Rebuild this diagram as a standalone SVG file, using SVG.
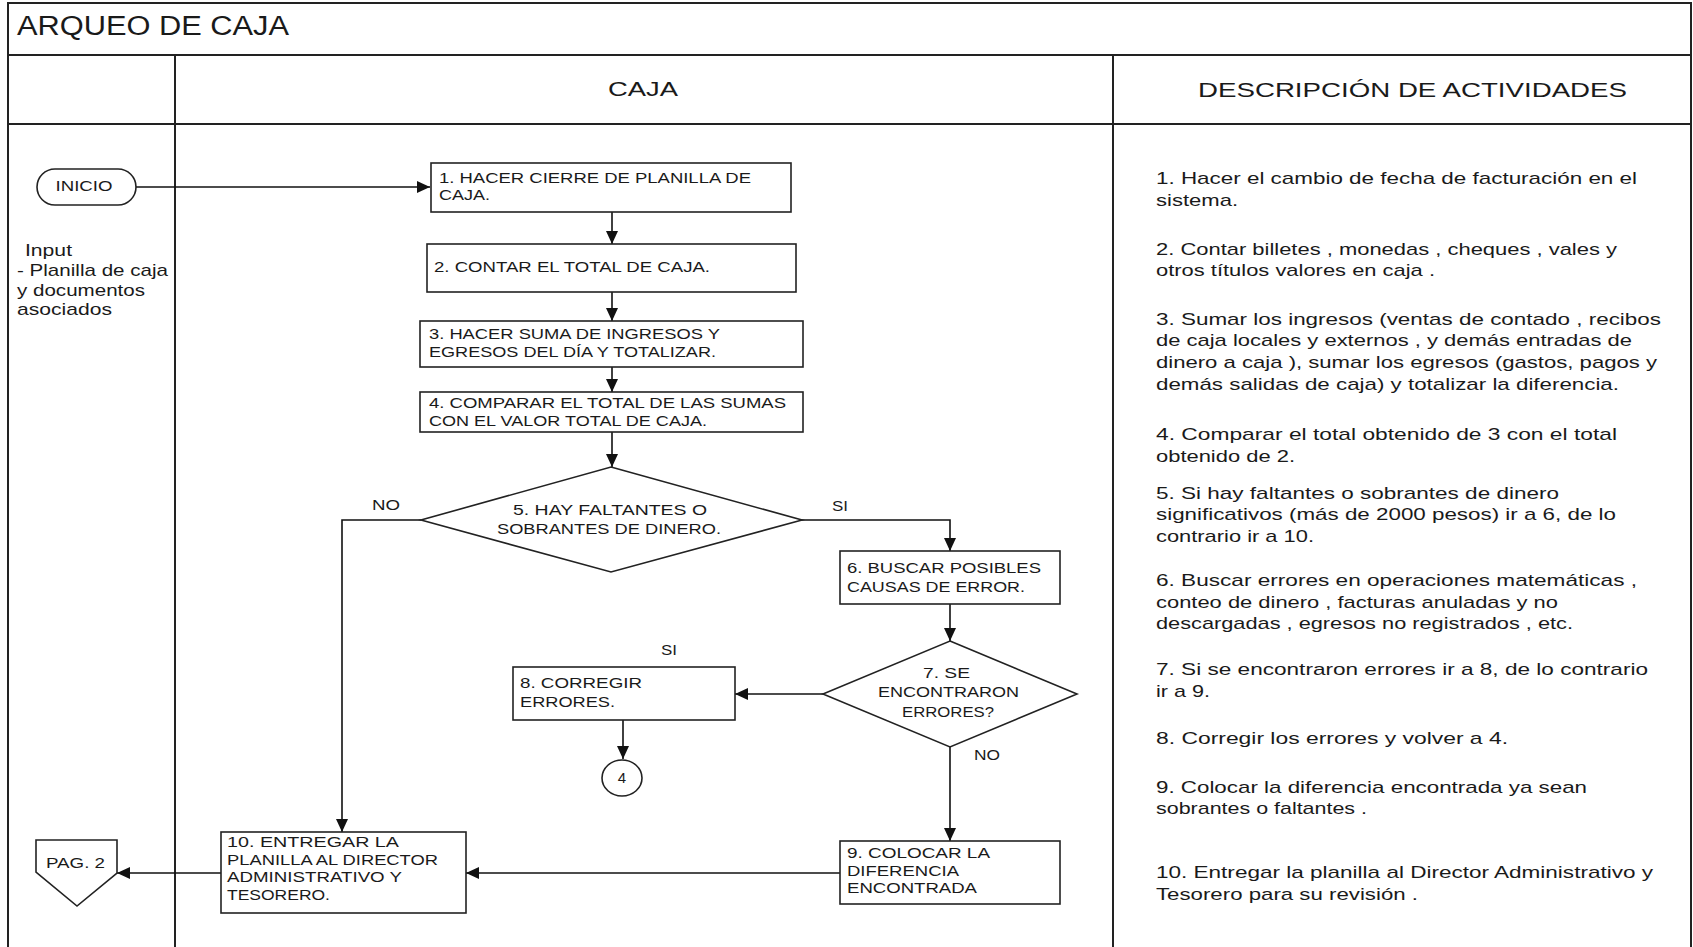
<svg xmlns="http://www.w3.org/2000/svg" width="1693" height="947" viewBox="0 0 1693 947">
  <style>
    .frame { fill: none; stroke: #222; stroke-width: 2; }
    .shape { fill: #fff; stroke: #222; stroke-width: 1.6; }
    .conn { fill: none; stroke: #111; stroke-width: 1.6; }
    text { font-family: "Liberation Sans", Arial, sans-serif; fill: #1a1a1a; }
    .t { font-size: 15px; }
    .d { font-size: 17px; }
    .h { font-size: 21px; }
  </style>
  <defs>
    <marker id="arrow" markerUnits="userSpaceOnUse" markerWidth="14" markerHeight="12" refX="13" refY="6" orient="auto">
      <path d="M0,0 L13,6 L0,12 Z" fill="#111"/>
    </marker>
  </defs>

  <rect width="1693" height="947" fill="#fff"/>

  <!-- page frame and swimlane grid -->
  <g id="frame">
    <path class="frame" d="M8,947 V3 H1691 V947"/>
    <path class="frame" d="M8,55 H1691 M8,124 H1691 M175,55 V947 M1113,55 V947"/>
    <text x="17" y="35" font-size="27" textLength="272" lengthAdjust="spacingAndGlyphs">ARQUEO DE CAJA</text>
    <text class="h" x="608" y="96" textLength="70" lengthAdjust="spacingAndGlyphs">CAJA</text>
    <text class="h" x="1198" y="97" textLength="429" lengthAdjust="spacingAndGlyphs">DESCRIPCIÓN DE ACTIVIDADES</text>
  </g>

  <!-- connectors -->
  <g id="connectors">
    <path class="conn" d="M136,187 H430" marker-end="url(#arrow)"/>
    <path class="conn" d="M612,212 V244" marker-end="url(#arrow)"/>
    <path class="conn" d="M612,292 V321" marker-end="url(#arrow)"/>
    <path class="conn" d="M612,367 V392" marker-end="url(#arrow)"/>
    <path class="conn" d="M612,432 V467" marker-end="url(#arrow)"/>
    <path class="conn" d="M421,520 H342 V832" marker-end="url(#arrow)"/>
    <path class="conn" d="M801,520 H950 V551" marker-end="url(#arrow)"/>
    <path class="conn" d="M950,604 V641" marker-end="url(#arrow)"/>
    <path class="conn" d="M823,694 H735" marker-end="url(#arrow)"/>
    <path class="conn" d="M623,720 V759" marker-end="url(#arrow)"/>
    <path class="conn" d="M950,747 V841" marker-end="url(#arrow)"/>
    <path class="conn" d="M840,873 H466" marker-end="url(#arrow)"/>
    <path class="conn" d="M221,873 H117" marker-end="url(#arrow)"/>
    <text class="t" x="372" y="510" textLength="28" lengthAdjust="spacingAndGlyphs">NO</text>
    <text class="t" x="832" y="511" textLength="16" lengthAdjust="spacingAndGlyphs">SI</text>
    <text class="t" x="661" y="655" textLength="16" lengthAdjust="spacingAndGlyphs">SI</text>
    <text class="t" x="974" y="760" textLength="26" lengthAdjust="spacingAndGlyphs">NO</text>
  </g>

  <g id="inicio">
    <rect class="shape" x="37" y="169" width="99" height="36" rx="18"/>
    <text class="t" x="55.5" y="191" textLength="57" lengthAdjust="spacingAndGlyphs">INICIO</text>
  </g>

  <g id="input">
    <text class="d" x="25" y="256" font-size="16" textLength="47" lengthAdjust="spacingAndGlyphs">Input</text>
    <text class="d" x="17" y="276" font-size="16" textLength="151" lengthAdjust="spacingAndGlyphs">- Planilla de caja</text>
    <text class="d" x="17" y="296" font-size="16" textLength="128" lengthAdjust="spacingAndGlyphs">y documentos</text>
    <text class="d" x="17" y="315" font-size="16" textLength="95" lengthAdjust="spacingAndGlyphs">asociados</text>
  </g>

  <g id="step1">
    <rect class="shape" x="431" y="163" width="360" height="49"/>
    <text class="t" x="439" y="183" textLength="312" lengthAdjust="spacingAndGlyphs">1. HACER CIERRE DE PLANILLA DE</text>
    <text class="t" x="439" y="200" textLength="51" lengthAdjust="spacingAndGlyphs">CAJA.</text>
  </g>

  <g id="step2">
    <rect class="shape" x="427" y="244" width="369" height="48"/>
    <text class="t" x="434" y="272" textLength="276" lengthAdjust="spacingAndGlyphs">2. CONTAR EL TOTAL DE CAJA.</text>
  </g>

  <g id="step3">
    <rect class="shape" x="420" y="321" width="383" height="46"/>
    <text class="t" x="429" y="339" textLength="291" lengthAdjust="spacingAndGlyphs">3. HACER SUMA DE INGRESOS Y</text>
    <text class="t" x="429" y="357" textLength="287" lengthAdjust="spacingAndGlyphs">EGRESOS DEL DÍA Y TOTALIZAR.</text>
  </g>

  <g id="step4">
    <rect class="shape" x="420" y="392" width="383" height="40"/>
    <text class="t" x="429" y="408" textLength="357" lengthAdjust="spacingAndGlyphs">4. COMPARAR EL TOTAL DE LAS SUMAS</text>
    <text class="t" x="429" y="426" textLength="278" lengthAdjust="spacingAndGlyphs">CON EL VALOR TOTAL DE CAJA.</text>
  </g>

  <g id="decision5">
    <polygon class="shape" points="611,467 802,520 611,572 421,520"/>
    <text class="t" x="513" y="515" textLength="194" lengthAdjust="spacingAndGlyphs">5. HAY FALTANTES O</text>
    <text class="t" x="497" y="534" textLength="224" lengthAdjust="spacingAndGlyphs">SOBRANTES DE DINERO.</text>
  </g>

  <g id="step6">
    <rect class="shape" x="840" y="551" width="220" height="53"/>
    <text class="t" x="847" y="573" textLength="194" lengthAdjust="spacingAndGlyphs">6. BUSCAR POSIBLES</text>
    <text class="t" x="847" y="592" textLength="178" lengthAdjust="spacingAndGlyphs">CAUSAS DE ERROR.</text>
  </g>

  <g id="decision7">
    <polygon class="shape" points="950,641 1077,694 950,747 823,694"/>
    <text class="t" x="923" y="678" textLength="47" lengthAdjust="spacingAndGlyphs">7. SE</text>
    <text class="t" x="878" y="697" textLength="141" lengthAdjust="spacingAndGlyphs">ENCONTRARON</text>
    <text class="t" x="902" y="717" textLength="92" lengthAdjust="spacingAndGlyphs">ERRORES?</text>
  </g>

  <g id="step8">
    <rect class="shape" x="513" y="667" width="222" height="53"/>
    <text class="t" x="520" y="688" textLength="122" lengthAdjust="spacingAndGlyphs">8. CORREGIR</text>
    <text class="t" x="520" y="707" textLength="95" lengthAdjust="spacingAndGlyphs">ERRORES.</text>
  </g>

  <g id="ref4">
    <ellipse class="shape" cx="622" cy="778" rx="20" ry="18"/>
    <text class="t" x="622" y="783" text-anchor="middle">4</text>
  </g>

  <g id="step9">
    <rect class="shape" x="840" y="841" width="220" height="63"/>
    <text class="t" x="847" y="858" textLength="143" lengthAdjust="spacingAndGlyphs">9. COLOCAR LA</text>
    <text class="t" x="847" y="876" textLength="112" lengthAdjust="spacingAndGlyphs">DIFERENCIA</text>
    <text class="t" x="847" y="893" textLength="130" lengthAdjust="spacingAndGlyphs">ENCONTRADA</text>
  </g>

  <g id="step10">
    <rect class="shape" x="221" y="832" width="245" height="81"/>
    <text class="t" x="227" y="847" textLength="172" lengthAdjust="spacingAndGlyphs">10. ENTREGAR LA</text>
    <text class="t" x="227" y="864.5" textLength="211" lengthAdjust="spacingAndGlyphs">PLANILLA AL DIRECTOR</text>
    <text class="t" x="227" y="882" textLength="175" lengthAdjust="spacingAndGlyphs">ADMINISTRATIVO Y</text>
    <text class="t" x="227" y="899.5" textLength="103" lengthAdjust="spacingAndGlyphs">TESORERO.</text>
  </g>

  <g id="pag2">
    <polygon class="shape" points="36,840 117,840 117,873 77,906 36,872"/>
    <text class="t" x="46" y="868" font-size="14" textLength="59" lengthAdjust="spacingAndGlyphs">PAG. 2</text>
  </g>

  <!-- activity descriptions column -->
  <g id="descriptions">
    <text class="d" x="1156" y="184" textLength="481" lengthAdjust="spacingAndGlyphs">1. Hacer el cambio de fecha de facturación en el</text>
    <text class="d" x="1156" y="205.5" textLength="82" lengthAdjust="spacingAndGlyphs">sistema.</text>
    <text class="d" x="1156" y="255" textLength="461" lengthAdjust="spacingAndGlyphs">2. Contar billetes , monedas , cheques , vales y</text>
    <text class="d" x="1156" y="276" textLength="279" lengthAdjust="spacingAndGlyphs">otros títulos valores en caja .</text>
    <text class="d" x="1156" y="324.5" textLength="505" lengthAdjust="spacingAndGlyphs">3. Sumar los ingresos (ventas de contado , recibos</text>
    <text class="d" x="1156" y="346" textLength="476" lengthAdjust="spacingAndGlyphs">de caja locales y externos , y demás entradas de</text>
    <text class="d" x="1156" y="368" textLength="501" lengthAdjust="spacingAndGlyphs">dinero a caja ), sumar los egresos (gastos, pagos y</text>
    <text class="d" x="1156" y="390" textLength="463" lengthAdjust="spacingAndGlyphs">demás salidas de caja) y totalizar la diferencia.</text>
    <text class="d" x="1156" y="440" textLength="461" lengthAdjust="spacingAndGlyphs">4. Comparar el total obtenido de 3 con el total</text>
    <text class="d" x="1156" y="461.5" textLength="139" lengthAdjust="spacingAndGlyphs">obtenido de 2.</text>
    <text class="d" x="1156" y="498.5" textLength="403" lengthAdjust="spacingAndGlyphs">5. Si hay faltantes o sobrantes de dinero</text>
    <text class="d" x="1156" y="520" textLength="460" lengthAdjust="spacingAndGlyphs">significativos (más de 2000 pesos) ir a 6, de lo</text>
    <text class="d" x="1156" y="541.5" textLength="158" lengthAdjust="spacingAndGlyphs">contrario ir a 10.</text>
    <text class="d" x="1156" y="585.5" textLength="481" lengthAdjust="spacingAndGlyphs">6. Buscar errores en operaciones matemáticas ,</text>
    <text class="d" x="1156" y="607.5" textLength="402" lengthAdjust="spacingAndGlyphs">conteo de dinero , facturas anuladas y no</text>
    <text class="d" x="1156" y="629" textLength="417" lengthAdjust="spacingAndGlyphs">descargadas , egresos no registrados , etc.</text>
    <text class="d" x="1156" y="675" textLength="492" lengthAdjust="spacingAndGlyphs">7. Si se encontraron errores ir a 8, de lo contrario</text>
    <text class="d" x="1156" y="697" textLength="54" lengthAdjust="spacingAndGlyphs">ir a 9.</text>
    <text class="d" x="1156" y="744" textLength="352" lengthAdjust="spacingAndGlyphs">8. Corregir los errores y volver a 4.</text>
    <text class="d" x="1156" y="793" textLength="431" lengthAdjust="spacingAndGlyphs">9. Colocar la diferencia encontrada ya sean</text>
    <text class="d" x="1156" y="814" textLength="211" lengthAdjust="spacingAndGlyphs">sobrantes o faltantes .</text>
    <text class="d" x="1156" y="877.5" textLength="497" lengthAdjust="spacingAndGlyphs">10. Entregar la planilla al Director Administrativo y</text>
    <text class="d" x="1156" y="899.5" textLength="262" lengthAdjust="spacingAndGlyphs">Tesorero para su revisión .</text>
  </g>
</svg>
